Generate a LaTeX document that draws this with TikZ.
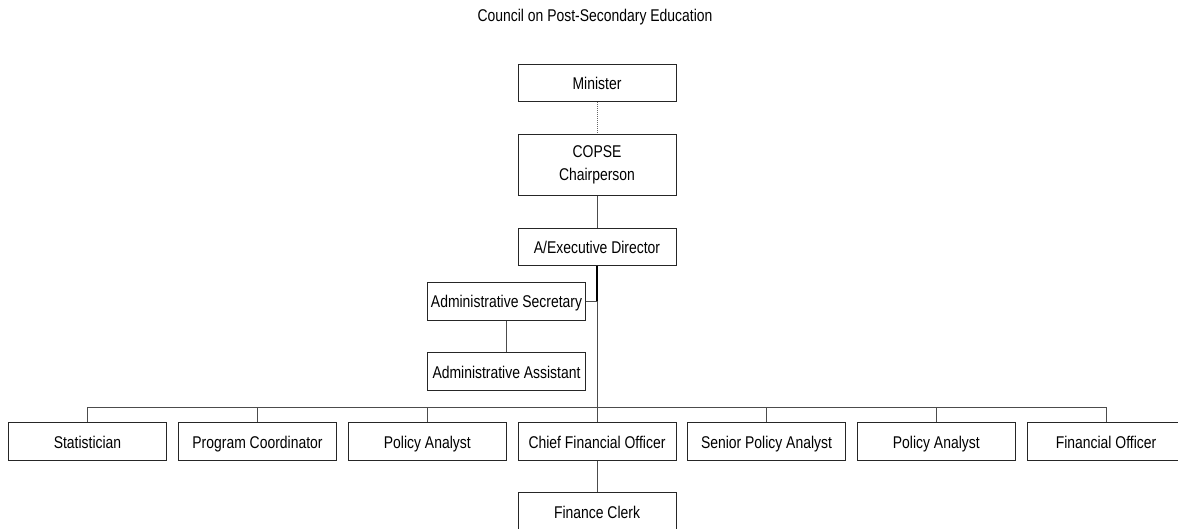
\documentclass[tikz,border=0pt]{standalone}
\usepackage{fontspec}
\setmainfont{Liberation Sans}[FakeStretch=0.82]
\begin{document}
\begin{tikzpicture}[x=1pt,y=-1pt,
  basebox/.style={draw=black!85,line width=0.9pt,minimum width=158pt,minimum height=37.5pt,inner sep=0pt,align=center,font=\fontsize{17}{23}\selectfont},
  box/.style={basebox,text height=13pt,text depth=0pt},
  link/.style={draw=black!70,line width=0.9pt},
  thick link/.style={draw=black,line width=1.8pt},
  dot link/.style={draw=black!60,line width=0.8pt,dash pattern=on 1pt off 1pt}]
\useasboundingbox (0,0) rectangle (1178,529);
\node[font=\fontsize{17}{20}\selectfont] (title) at (595,17) {Council on Post-Secondary Education};
\node[box] (min) at (597,83) {Minister};
\node[basebox,minimum height=61.5pt] (chair) at (597,165) {COPSE\\Chairperson};
\node[box] (exec) at (597,247) {A/Executive Director};
\node[box,minimum width=157.5pt] (sec) at (506.5,301.5) {Administrative Secretary};
\node[box,minimum width=157.5pt] (asst) at (506.5,371.5) {Administrative Assistant};
\node[box] (stat) at (87.5,441.5) {Statistician};
\node[box] (prog) at (257.5,441.5) {Program Coordinator};
\node[box] (pa1) at (427.3,441.5) {Policy Analyst};
\node[box] (cfo) at (597,441.5) {Chief Financial Officer};
\node[box] (spa) at (766.5,441.5) {Senior Policy Analyst};
\node[box] (pa2) at (936.3,441.5) {Policy Analyst};
\node[box] (fo) at (1106,441.5) {Financial Officer};
\node[box] (clerk) at (597,511.5) {Finance Clerk};
\coordinate (j) at (597,301.5);
\coordinate (bus) at (597,407);
\draw[dot link] (min) -- (chair);
\draw[link] (chair) -- (exec);
\draw[thick link] (exec.south) -- (j);
\draw[link] (sec) -- (j);
\draw[link] (j) -- (bus);
\draw[link] (sec) -- (asst);
\draw[link] (stat.north) |- (bus);
\draw[link] (fo.north) |- (bus);
\foreach \n in {prog,pa1,cfo,spa,pa2} \draw[link] (\n.north) -- (\n.north |- bus);
\draw[link] (cfo) -- (clerk);
\end{tikzpicture}
\end{document}
